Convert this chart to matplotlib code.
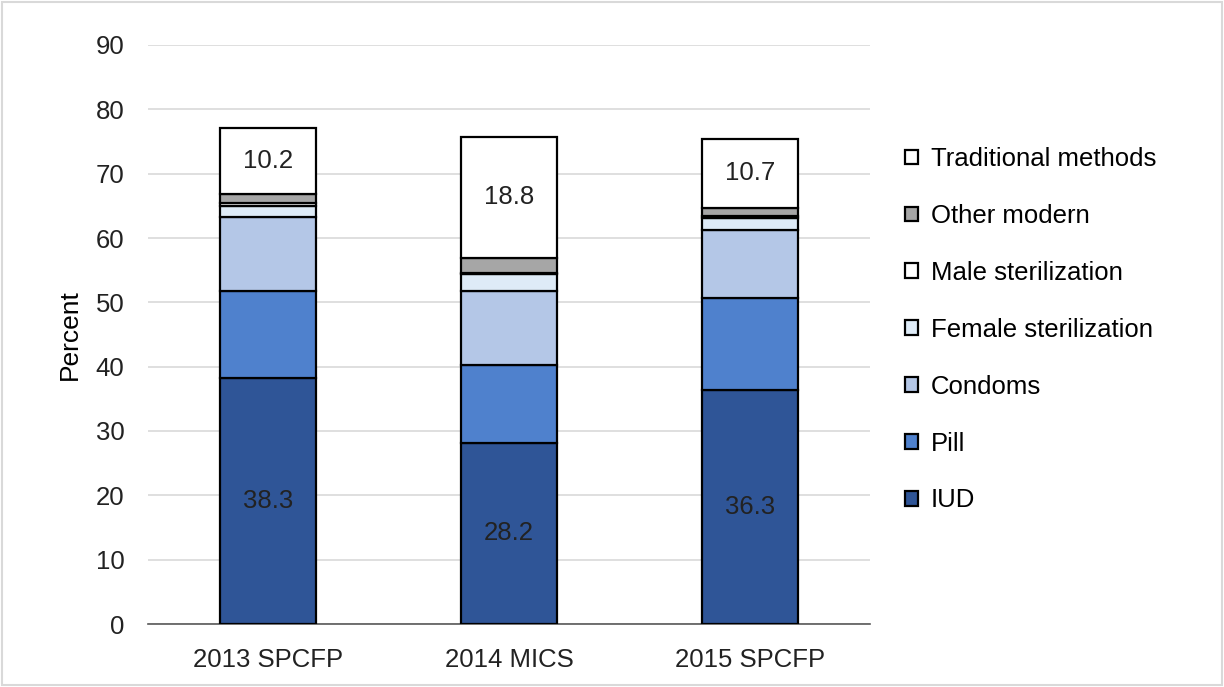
import matplotlib.pyplot as plt
import numpy as np

plt.rcParams['font.family'] = ['Liberation Sans', 'DejaVu Sans']

surveys = ['2013 SPCFP', '2014 MICS', '2015 SPCFP']
methods = ['IUD', 'Pill', 'Condoms', 'Female sterilization',
           'Male sterilization', 'Other modern', 'Traditional methods']
iud = [38.3, 28.2, 36.3]
pill = [13.5, 12.1, 14.4]
condoms = [11.4, 11.4, 10.6]
female_ster = [1.7, 2.7, 1.8]
male_ster = [0.5, 0.2, 0.3]
other_modern = [1.5, 2.3, 1.3]
traditional = [10.2, 18.8, 10.7]

series = [iud, pill, condoms, female_ster, male_ster, other_modern, traditional]
colors = ['#2F5597', '#4F81CD', '#B4C7E7', '#DEEBF7', '#FFFFFF', '#A6A6A6', '#FFFFFF']
label_series = {0: iud, 6: traditional}
FNT = 18.5

fig = plt.figure(figsize=(12.24, 6.87), dpi=100)
ax = fig.add_axes([148/1224, 63/687, (870-148)/1224, (624-45)/687])

x = np.arange(len(surveys))
bottom = np.zeros(len(surveys))
handles = []
for i, (vals, col, name) in enumerate(zip(series, colors, methods)):
    b = ax.bar(x, vals, 0.4, bottom=bottom, color=col, edgecolor='black',
               linewidth=1.6, label=name, zorder=3)
    handles.append(b)
    if i in label_series:
        for xi, v, bt in zip(x, vals, bottom):
            ax.text(xi, bt + v / 2, f'{v:.1f}', ha='center', va='center',
                    fontsize=FNT, color='#222222', zorder=4)
    bottom += np.array(vals)

ax.set_xlim(-0.5, 2.5)
ax.set_ylim(0, 90)
ax.set_yticks(range(0, 91, 10))
ax.set_xticks(x)
ax.set_xticklabels(surveys)
ax.tick_params(axis='both', length=0, labelsize=FNT, colors='#222222')
ax.tick_params(axis='y', pad=17)
ax.tick_params(axis='x', pad=17)
ax.yaxis.grid(True, color='#D9D9D9', linewidth=1.2, zorder=0)
for s in ['top', 'right', 'left']:
    ax.spines[s].set_visible(False)
ax.spines['bottom'].set_color('#595959')
ax.spines['bottom'].set_linewidth(1.2)
ax.set_ylabel('Percent', fontsize=FNT + 0.5, labelpad=10)

leg = fig.legend(handles[::-1], methods[::-1], loc='upper left',
                 bbox_to_anchor=(882/1224, 1 - 124/687), frameon=False,
                 fontsize=FNT, handlelength=0.5, handleheight=0.5,
                 handletextpad=0.5, labelspacing=1.28)

fig.patches.append(plt.Rectangle((0.002, 0.003), 0.996, 0.994, transform=fig.transFigure,
                                 fill=False, edgecolor='#D9D9D9', linewidth=1.5))
fig.savefig('out.png', dpi=100)
